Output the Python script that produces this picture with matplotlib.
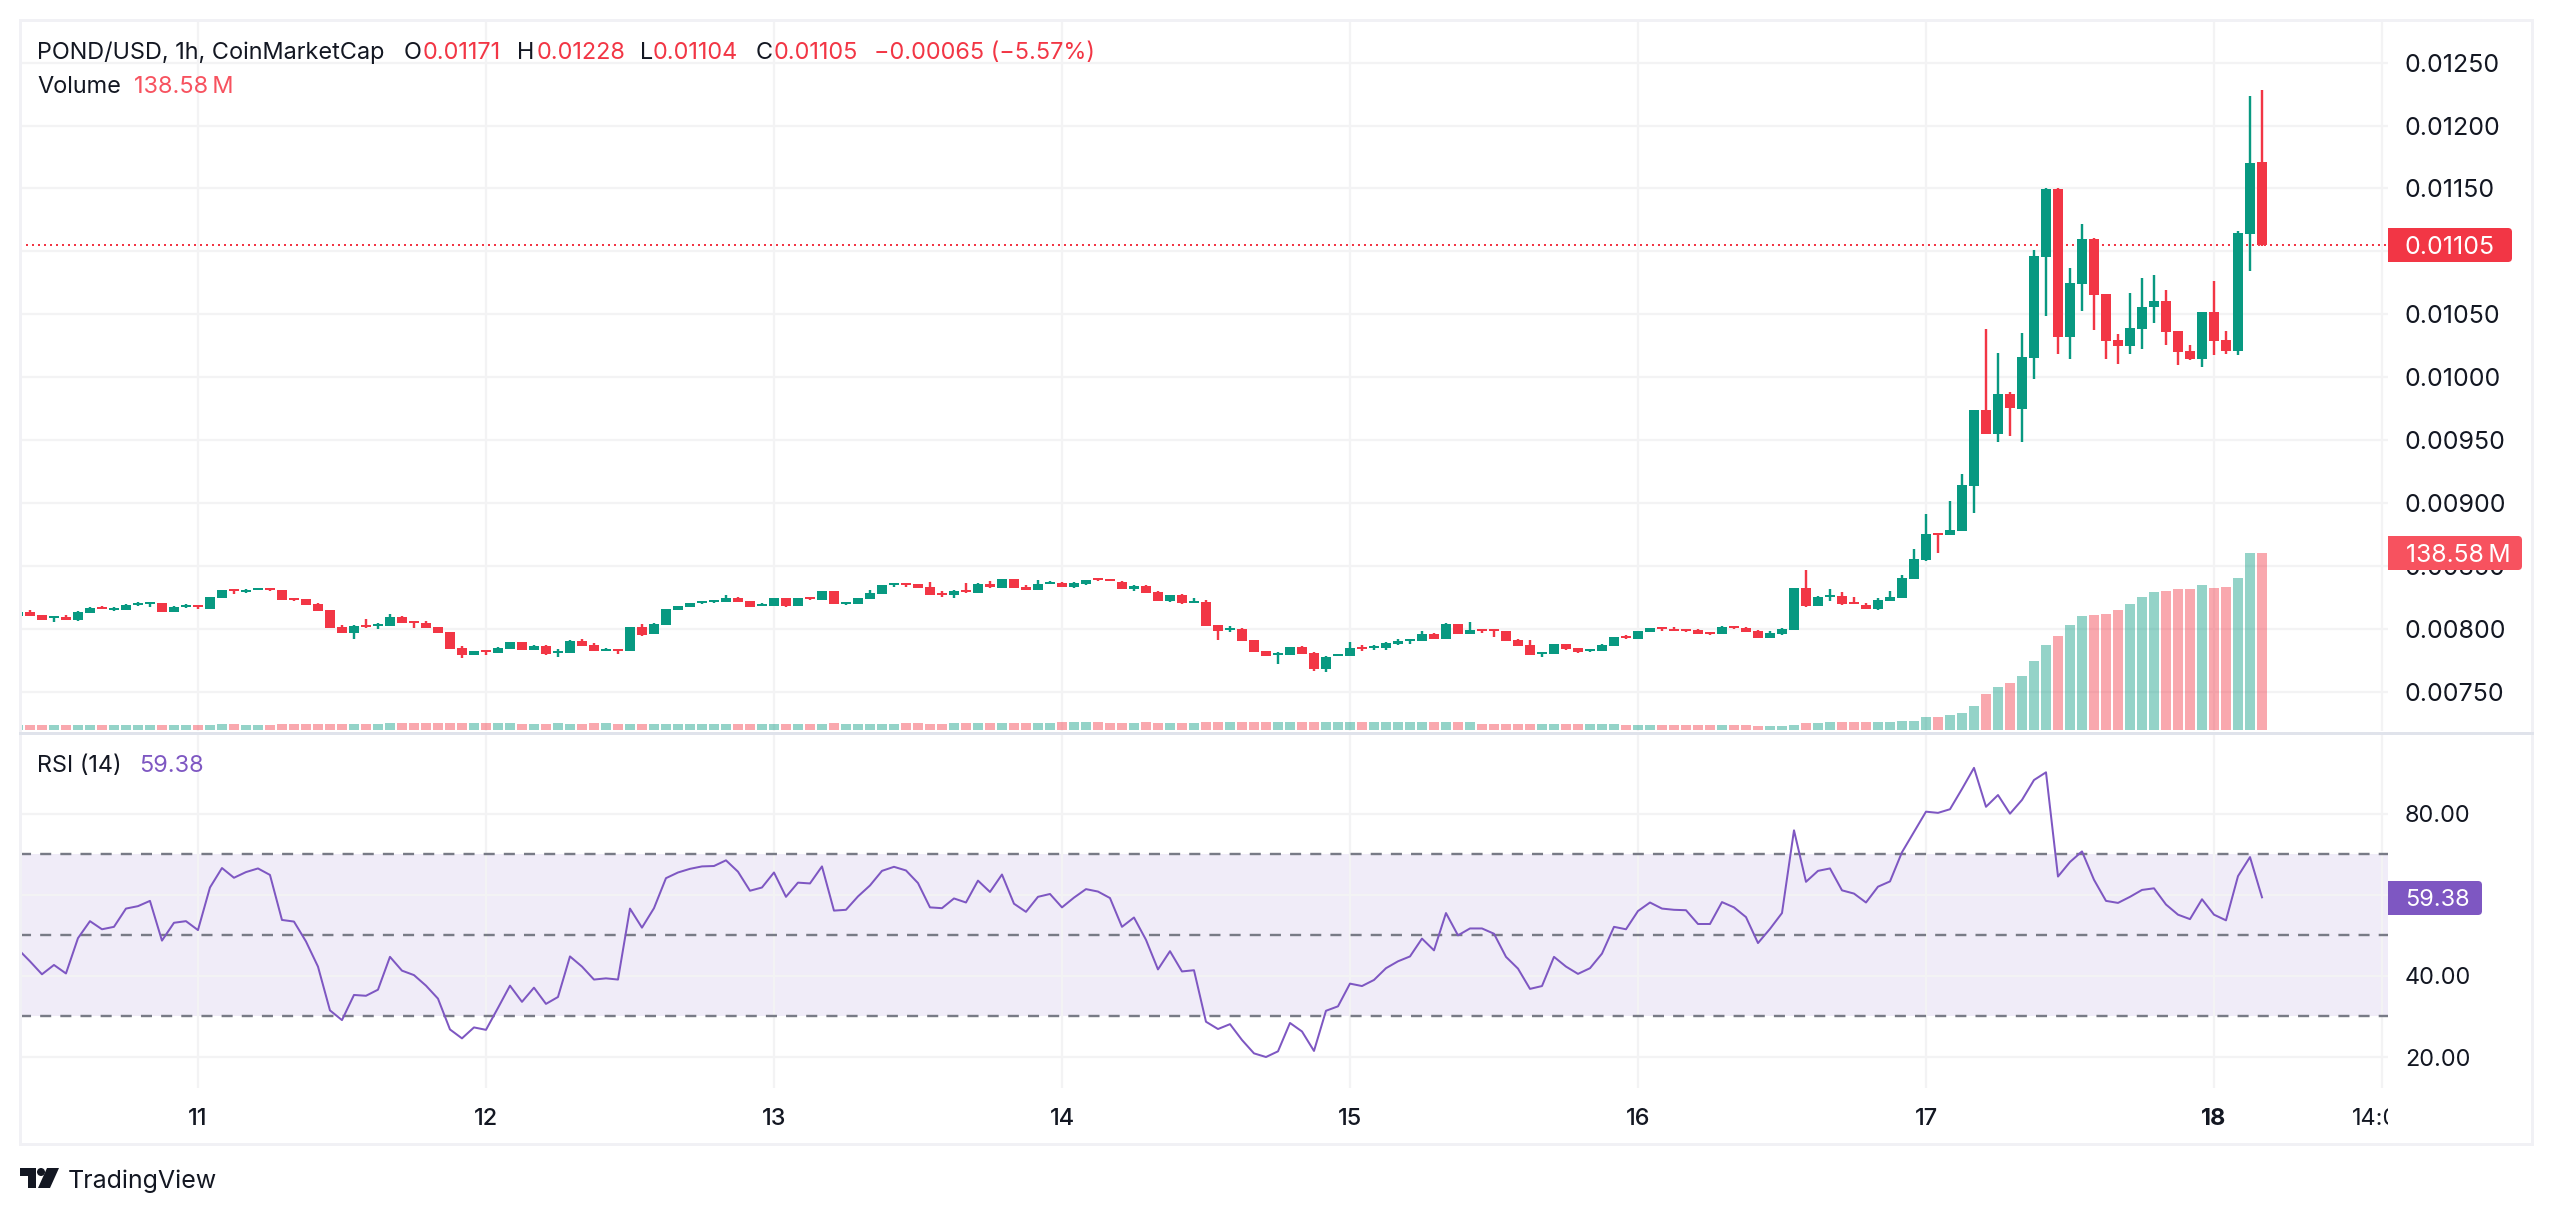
import matplotlib
matplotlib.use("Agg")
import matplotlib.pyplot as plt
from matplotlib.patches import Rectangle, FancyBboxPatch, Circle, Polygon
import numpy as np

plt.rcParams['font.family'] = ['Inter', 'DejaVu Sans']

W, H = 2552, 1214

GREEN = "#089981"
RED = "#F23645"
LIGHTRED = "#F7525F"
PURPLE = "#7E57C2"
GRID = "#F3F3F4"
FRAME = "#F1F1F5"
SEP = "#E0E3EB"
TEXT = "#131722"

# hours since the 11th 00:00, one candle per hour
hours = np.arange(-15, 173)

# prices in 1e-5 USD
opens = np.array([
	810.0,813.2,810.8,808.4,809.2,806.9,812.4,817.2,814.8,814.8,818.8,819.6,820.4,813.2,817.2,818.8,
	815.6,824.3,831.5,829.4,830.7,832.3,830.7,824.3,823.5,819.6,814.8,801.3,796.5,802.9,802.1,802.1,809.2,806.1,804.5,801.3,797.3,784.6,779.1,783.0,
	780.7,783.8,789.4,783.0,786.2,780.7,780.7,790.2,787.0,782.2,783.8,782.2,801.3,795.7,802.9,814.8,817.2,820.4,821.2,821.2,824.3,821.9,818.0,818.0,
	824.3,818.0,825.1,822.7,829.9,819.6,819.6,823.5,827.5,834.7,836.2,835.4,833.1,828.3,826.7,830.7,828.3,835.4,832.3,839.4,833.1,830.7,835.4,836.2,
	833.1,835.4,840.2,839.4,837.0,831.5,833.9,829.1,821.9,826.7,820.4,821.2,802.9,798.9,799.7,791.0,782.2,779.1,779.1,785.4,780.7,768.0,778.3,778.3,
	785.4,784.6,784.6,787.8,790.2,790.2,795.7,791.8,803.7,795.7,799.7,799.7,798.1,791.0,787.0,779.9,779.9,787.8,784.6,782.2,782.2,786.2,794.2,791.8,
	797.3,801.3,799.7,799.7,798.9,797.3,795.7,802.1,800.5,798.1,792.6,795.7,798.9,832.3,818.0,825.1,825.9,821.2,818.8,815.6,821.9,824.3,839.4,854.5,
	875.9,874.3,877.5,913.2,974.3,955.2,986.9,975.1,1015.5,1095.7,1149.7,1032.2,1074.3,1110.0,1066.4,1029.8,1025.1,1038.6,1056.0,1060.8,1037.0,1021.1,1014.7,1052.1,
	1029.8,1021.1,1114.0,1171.0]) / 1e5

highs = np.array([
	813.2,814.8,810.8,810.0,810.8,814.0,817.2,818.0,817.2,819.6,821.2,821.2,820.4,818.0,819.6,818.8,
	825.1,830.7,831.5,831.5,832.3,832.3,830.7,824.3,823.5,820.4,814.8,802.9,802.9,807.7,804.5,811.6,810.0,806.1,806.1,801.3,797.3,786.2,782.2,783.0,
	785.4,789.4,789.4,787.0,787.0,783.8,791.0,791.8,788.6,784.6,783.8,801.3,803.7,804.5,815.6,818.0,820.4,821.9,822.7,826.7,825.1,821.9,820.4,824.3,
	824.3,824.3,825.1,829.9,829.9,821.2,824.3,830.7,834.7,836.2,836.2,835.4,837.0,829.9,830.7,836.2,836.2,837.8,839.4,839.4,834.7,838.6,837.8,837.0,
	837.0,838.6,840.2,839.4,837.8,834.7,834.7,829.9,826.7,827.5,824.3,822.7,802.9,802.1,800.5,791.0,782.2,781.4,785.4,786.2,781.4,778.3,779.9,789.4,
	787.0,787.0,789.4,791.8,791.8,798.1,796.5,804.5,803.7,805.3,799.7,799.7,798.1,791.8,791.0,781.4,787.8,787.8,784.6,783.8,787.8,793.4,794.9,798.1,
	800.5,801.3,801.3,799.7,799.7,797.3,802.1,802.1,801.3,798.9,798.1,800.5,832.3,846.6,825.9,831.5,829.1,825.1,820.4,824.3,829.9,842.6,863.2,891.0,
	875.9,901.3,922.8,974.3,1038.6,1019.5,988.6,1035.4,1101.3,1150.5,1150.5,1087.0,1121.9,1110.8,1066.4,1034.6,1067.2,1079.1,1081.4,1069.5,1037.0,1025.9,1052.1,1076.7,
	1037.0,1116.4,1223.5,1228.0]) / 1e5

lows = np.array([
	810.0,810.0,806.9,805.3,806.9,806.1,812.4,815.6,814.0,814.8,818.0,817.2,813.2,813.2,816.4,815.6,
	815.6,824.3,827.5,828.3,830.7,829.9,822.7,821.9,818.8,814.0,800.5,796.5,791.8,800.5,799.7,802.1,804.5,800.5,800.5,796.5,783.8,776.7,779.1,779.1,
	780.7,783.8,783.0,783.0,779.1,777.5,780.7,786.2,782.2,782.2,779.9,782.2,794.2,795.7,802.9,814.8,817.2,819.6,820.4,821.2,821.2,817.2,818.0,818.0,
	817.2,818.0,822.7,822.7,819.6,818.8,819.6,823.5,827.5,833.1,833.1,832.3,826.7,825.1,824.3,828.3,828.3,832.3,832.3,832.3,830.7,830.7,835.4,833.1,
	832.3,834.7,837.8,837.8,831.5,829.9,828.3,821.9,821.2,819.6,820.4,802.1,791.0,797.3,790.2,781.4,778.3,771.9,779.1,779.9,766.4,765.6,778.3,778.3,
	782.2,783.0,783.0,787.0,787.8,790.2,791.8,791.8,795.7,795.7,796.5,793.4,790.2,786.2,779.1,777.5,779.9,783.0,780.7,781.4,782.2,786.2,791.8,791.8,
	797.3,798.1,798.1,797.3,795.7,794.9,795.7,799.7,797.3,792.6,792.6,794.9,798.9,817.2,818.0,821.9,818.8,819.6,815.6,814.8,821.9,824.3,839.4,853.7,
	860.1,874.3,877.5,891.8,955.2,948.1,953.6,948.1,998.9,1048.9,1018.7,1014.7,1052.8,1037.8,1014.7,1010.8,1018.7,1022.7,1043.3,1025.9,1010.0,1014.0,1008.4,1017.9,
	1018.7,1017.9,1084.6,1104.0]) / 1e5

closes = np.array([
	813.2,810.0,806.9,810.0,806.9,813.2,816.4,815.6,816.4,818.8,820.4,821.2,813.2,817.2,818.8,817.2,
	825.1,830.7,829.9,830.7,832.3,830.7,822.7,822.7,818.8,814.0,800.5,796.5,802.1,801.3,803.7,809.2,804.5,804.5,800.5,796.5,783.8,779.1,782.2,781.4,
	784.6,789.4,783.0,786.2,779.9,782.2,790.2,786.2,782.2,783.8,782.2,801.3,794.9,803.7,815.6,818.0,820.4,821.9,822.7,824.3,821.2,817.2,819.6,824.3,
	818.0,824.3,823.5,829.9,819.6,821.2,824.3,828.3,834.7,836.2,834.7,832.3,826.7,826.7,829.9,829.1,835.4,833.1,839.4,832.3,830.7,835.4,837.0,833.1,
	836.2,838.6,838.6,837.8,831.5,833.9,828.3,821.9,826.7,820.4,821.9,802.1,798.1,800.5,790.2,781.4,778.3,780.7,785.4,779.9,768.0,777.5,779.9,784.6,
	783.8,786.2,788.6,790.2,791.8,795.7,791.8,803.7,795.7,798.9,798.1,798.1,790.2,786.2,779.1,781.4,787.8,783.8,781.4,783.8,787.0,793.4,792.6,798.1,
	800.5,799.7,798.1,798.1,795.7,795.7,801.3,800.5,797.3,792.6,796.5,799.7,832.3,818.0,825.1,826.7,819.6,819.6,815.6,822.7,825.1,840.2,855.3,875.1,
	874.3,878.3,914.0,974.3,955.2,986.9,975.9,1016.3,1096.5,1149.7,1032.2,1075.1,1110.0,1065.6,1029.0,1025.1,1039.4,1056.0,1060.8,1036.2,1020.3,1014.7,1052.1,1029.0,
	1021.1,1114.8,1170.3,1105.0]) / 1e5

# volume in millions
volume = [
	3.9,3.9,3.9,3.9,3.9,3.9,3.9,3.9,3.9,3.9,3.9,3.9,3.9,3.9,3.9,3.9,
	3.9,4.7,4.7,3.9,3.9,3.9,4.7,4.7,4.7,4.7,4.7,4.7,4.7,4.7,4.7,5.5,5.5,5.5,5.5,5.5,5.5,5.5,5.5,5.5,
	5.5,5.5,4.7,4.7,4.7,5.5,4.7,4.7,5.5,5.5,4.7,4.7,4.7,4.7,4.7,4.7,4.7,4.7,4.7,4.7,4.7,4.7,4.7,4.7,
	4.7,4.7,4.7,4.7,5.5,4.7,4.7,4.7,4.7,4.7,5.5,5.5,4.7,4.7,5.5,5.5,5.5,5.5,5.5,5.5,5.5,5.5,5.5,6.3,
	6.3,6.3,6.3,5.5,5.5,5.5,6.3,5.5,5.5,5.5,5.5,6.3,6.3,6.3,6.3,6.3,6.3,6.3,6.3,6.3,6.3,6.3,6.3,6.3,
	6.3,6.3,6.3,6.3,6.3,6.3,6.3,6.3,6.3,6.3,4.7,4.7,4.7,4.7,4.7,4.7,4.7,4.7,4.7,4.7,4.7,4.7,3.9,3.9,
	3.9,3.9,3.9,3.9,3.9,3.9,3.9,3.9,3.9,3.1,3.1,3.1,3.9,5.5,5.5,6.3,6.3,6.3,6.3,6.3,6.3,7.0,7.0,10.2,
	10.2,11.7,13.3,18.8,28.2,33.7,36.8,42.3,54.0,66.6,73.6,82.2,89.3,90.0,90.8,94.0,98.7,104.1,108.1,108.8,110.4,110.4,113.5,111.2,
	112.0,119.0,138.58,138.58]

rsi = [
	46.6,43.6,40.4,42.7,40.6,49.3,53.5,51.5,52.1,56.6,57.2,58.5,48.7,53.1,53.5,51.3,
	61.8,66.6,64.2,65.6,66.5,64.9,53.8,53.4,48.5,42.3,31.5,29.1,35.3,35.1,36.6,44.7,41.3,40.2,37.6,34.4,26.8,24.6,27.3,26.7,
	32.1,37.6,33.6,37.1,33.1,34.8,44.8,42.3,39.1,39.4,39.1,56.6,51.9,56.7,64.1,65.5,66.4,67.0,67.1,68.5,65.7,61.0,61.8,65.5,
	59.5,63.0,62.8,67.0,56.1,56.3,59.6,62.3,65.9,66.9,66.0,62.9,56.9,56.7,59.1,58.1,63.5,60.7,65.0,57.8,55.8,59.5,60.2,56.9,
	59.3,61.4,60.8,59.2,52.1,54.4,48.9,41.6,46.1,41.1,41.4,28.7,26.9,28.1,24.2,20.9,20.0,21.4,28.4,26.3,21.5,31.4,32.5,38.1,
	37.5,39.0,41.9,43.6,44.8,49.2,46.3,55.5,50.0,51.7,51.7,50.4,44.7,41.8,36.8,37.5,44.7,42.3,40.5,41.9,45.5,52.1,51.5,56.0,
	58.1,56.6,56.3,56.2,52.8,52.8,58.2,56.9,54.5,48.1,51.6,55.5,75.9,63.2,65.9,66.5,61.1,60.3,58.1,62.0,63.3,70.5,75.5,80.5,
	80.2,81.1,86.1,91.3,81.7,84.6,80.0,83.4,88.3,90.2,64.5,68.1,70.7,63.7,58.5,58.0,59.5,61.2,61.6,57.6,55.1,54.0,58.9,55.1,
	53.7,64.6,69.3,59.38]

price_ticks = [0.0075,0.008,0.0085,0.009,0.0095,0.01,0.0105,0.011,0.0115,0.012,0.0125]
rsi_ticks = [20,40,60,80]
rsi_levels = [30,50,70]
time_ticks = [0,24,48,72,96,120,144,168,182]
time_labels = ["11","12","13","14","15","16","17","18","14:00"]

px = 1/1.3889  # points per pixel at dpi 100

FS = 16.9
FS_PRICE = 18

def add_px_axes(left, top, right, bottom):
	return fig.add_axes([left/W, 1-bottom/H, (right-left)/W, (bottom-top)/H])

def rounded_tag(ax, x0, x1, y0, y1, color, label, tx, size):
	ax.add_patch(FancyBboxPatch((x0+6,y0+4), x1-x0-10, y1-y0-8, boxstyle="round,pad=4,rounding_size=4", fc=color, ec="none"))
	ax.add_patch(Rectangle((x0,y0), 10, y1-y0, fc=color, ec="none"))
	ax.text(tx, (y0+y1)/2, label, color="white", fontsize=size, va="center_baseline", ha="left")

fig = plt.figure(figsize=(W/100, H/100), dpi=100, facecolor="white")

# price pane
ax = add_px_axes(20, 20, 2388, 731)
ax.set_xlim(-14.83, 182.5)
ax.set_ylim(0.007188, 0.012839)
for s in ax.spines.values():
	s.set_visible(False)
ax.set_yticks(price_ticks)
# the 0.01100 label sits under the last price tag
ax.set_yticklabels(["" if t == 0.011 else f"{t:.5f}" for t in price_ticks])
ax.yaxis.tick_right()
ax.tick_params(axis="y", length=0, pad=17*px, labelsize=FS_PRICE, labelcolor=TEXT)
ax.set_xticks(time_ticks)
ax.tick_params(axis="x", length=0, labelbottom=False)
ax.grid(True, color=GRID, lw=2.2*px)
ax.set_axisbelow(True)
ax.axhline(closes[-1], color=RED, lw=2*px, ls=(0,(1,2)), zorder=1.5)

colors = [GREEN if c >= o else RED for o, c in zip(opens, closes)]
ax.vlines(hours, lows, highs, colors=colors, lw=2.4*px, zorder=3)
ax.bar(hours, np.abs(closes-opens), bottom=np.minimum(opens,closes), width=10/12, color=colors, lw=0, zorder=3)

# volume overlay, same x scale
axv = add_px_axes(20, 20, 2388, 730)
axv.patch.set_visible(False)
axv.set_xlim(ax.get_xlim())
axv.set_ylim(0, 138.58/177*710)
axv.axis("off")
axv.bar(hours, volume, width=10/12, color=colors, alpha=0.43, lw=0)

# rsi pane
axr = add_px_axes(20, 734, 2388, 1088)
axr.set_xlim(ax.get_xlim())
axr.set_ylim(12.36, 99.65)
for s in axr.spines.values():
	s.set_visible(False)
axr.set_yticks(rsi_ticks)
axr.set_yticklabels(["" if t == 60 else f"{t:.2f}" for t in rsi_ticks])
axr.yaxis.tick_right()
axr.tick_params(axis="y", length=0, pad=17*px, labelsize=FS, labelcolor=TEXT)
axr.set_xticks(time_ticks)
axr.set_xticklabels(time_labels)
axr.tick_params(axis="x", length=0, pad=20*px, labelsize=FS, labelcolor=TEXT)
for lab, name in zip(axr.get_xticklabels(), time_labels):
	if name == "18":
		lab.set_fontweight("bold")
	elif name != "14:00":
		lab.set_fontweight("medium")
axr.grid(True, color=GRID, lw=2.2*px)
axr.set_axisbelow(True)
axr.axhspan(rsi_levels[0], rsi_levels[2], color=PURPLE, alpha=0.11, lw=0, zorder=0.5)
for lvl in rsi_levels:
	axr.axhline(lvl, color="#787B86", lw=2.4*px, ls=(0,(4.6,3.8)), zorder=1.5)
axr.plot(hours, rsi, color=PURPLE, lw=2*px, zorder=3)

# chrome on top, drawn in pixel coordinates
top = fig.add_axes([0, 0, 1, 1], zorder=10)
top.patch.set_visible(False)
top.set_xlim(0, W)
top.set_ylim(H, 0)
top.axis("off")

top.add_patch(Rectangle((2388,1090), 140, 52, fc="white", ec="none"))
top.add_patch(Rectangle((20,20), 2512, 1124, fc="none", ec=FRAME, lw=3*px))
top.plot([20,2532], [732.5,732.5], color=SEP, lw=3*px)

rounded_tag(top, 2388, 2512, 228, 262, RED, "0.01105", 2405, FS_PRICE)
rounded_tag(top, 2388, 2522, 536, 570, LIGHTRED, "138.58\u2009M", 2406, 17.8)
rounded_tag(top, 2388, 2482, 881, 915, PURPLE, "59.38", 2405, FS)

for tx, s, c in [(37,"POND/USD, 1h, CoinMarketCap",TEXT),
	(403.5,"O",TEXT),(423,"0.01171",RED),
	(517,"H",TEXT),(537,"0.01228",RED),
	(640,"L",TEXT),(653,"0.01104",RED),
	(756,"C",TEXT),(774,"0.01105",RED),
	(874.5,"\u22120.00065 (\u22125.57%)",RED)]:
	top.text(tx, 53, s, color=c, fontsize=FS, va="center", ha="left")
top.text(37, 87, "Volume", color=TEXT, fontsize=FS, va="center", ha="left")
top.text(134, 87, "138.58\u2009M", color=LIGHTRED, fontsize=FS, va="center", ha="left")
top.text(37, 766, "RSI (14)", color=TEXT, fontsize=FS, va="center", ha="left")
top.text(139, 766, "59.38", color=PURPLE, fontsize=FS, va="center", ha="left")

# TradingView mark
top.add_patch(Rectangle((20,1168), 16, 8, fc=TEXT, ec="none"))
top.add_patch(Rectangle((27.5,1168), 8.5, 20, fc=TEXT, ec="none"))
top.add_patch(Circle((41,1172), 4, fc=TEXT, ec="none"))
top.add_patch(Polygon([(47,1168),(59,1168),(50,1188),(38,1188)], fc=TEXT, ec="none"))
top.text(68, 1181, "TradingView", color=TEXT, fontsize=18, va="center", ha="left")

fig.savefig("out.png", dpi=100, facecolor="white")
